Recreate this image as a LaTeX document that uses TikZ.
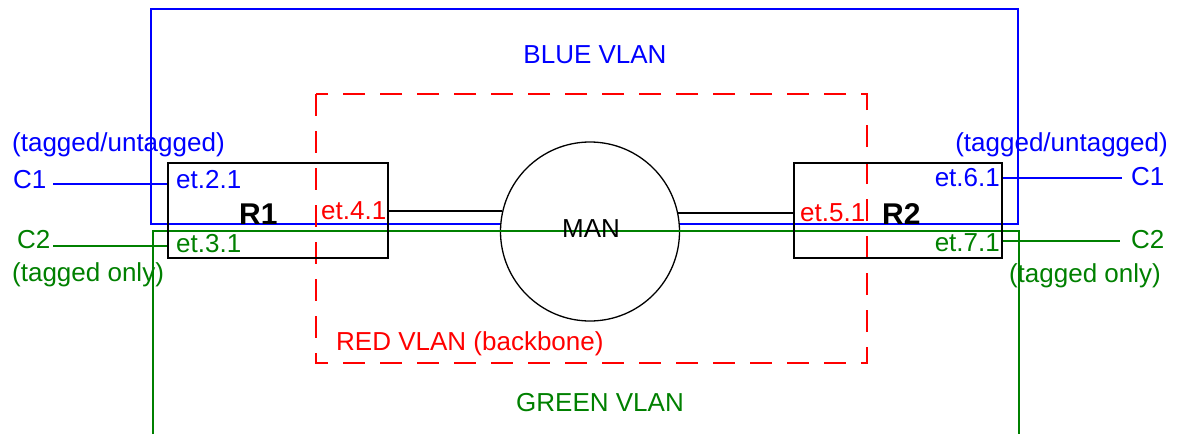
\documentclass[tikz,border=0pt]{standalone}
\usepackage{fontspec}
\setmainfont{Liberation Sans}
\definecolor{vblue}{RGB}{0,0,255}
\definecolor{vgreen}{RGB}{0,128,0}
\definecolor{vred}{RGB}{255,0,0}
\begin{document}
\begin{tikzpicture}[x=1pt,y=-1pt,
  txt/.style={inner sep=0pt, font=\fontsize{26}{30}\selectfont},
  bigtxt/.style={inner sep=0pt, font=\fontsize{30}{34}\selectfont\bfseries},
  rbox/.style={draw=black, line width=2.5pt, rectangle, inner sep=0pt, minimum height=95pt},
  mancircle/.style={draw=black, line width=1.3pt, circle, fill=white, inner sep=0pt, minimum size=179pt},
  vlanblue/.style={draw=vblue, line width=2pt},
  vlangreen/.style={draw=vgreen, line width=2pt},
  vlanred/.style={draw=vred, line width=2.5pt, dash pattern=on 22pt off 15pt},
  link/.style={draw=black, line width=2pt},
  bluelink/.style={draw=vblue, line width=2pt},
  greenlink/.style={draw=vgreen, line width=2pt}]
\useasboundingbox (0,0) rectangle (1181,434);

% BLUE VLAN region
\draw[vlanblue] (151,9) rectangle (1018,224);
% MAN cloud
\node[mancircle] (MAN) at (590,231.5) {};
% GREEN VLAN region (open at the bottom)
\draw[vlangreen] (153,434) -- (153,231) -- (1019,231) -- (1019,434);
% RED VLAN region
\draw[vlanred] (316,94) rectangle (867,363);

% routers
\node[rbox, minimum width=220pt] (R1) at (278,210.5) {};
\node[rbox, minimum width=208pt] (R2) at (898,210.5) {};

% backbone links
\draw[link] (R1.east |- MAN.167.4) -- (MAN.167.4);
\draw[link] (MAN.12.6) -- (R2.west |- MAN.12.6);

% client links
\coordinate (c1l) at (53,184);
\coordinate (c2l) at (53,246);
\coordinate (c1r) at (1122,178);
\coordinate (c2r) at (1120,241);
\draw[bluelink] (c1l) -- (c1l -| R1.west);
\draw[greenlink] (c2l) -- (c2l -| R1.west);
\draw[bluelink] (c1r -| R2.east) -- (c1r);
\draw[greenlink] (c2r -| R2.east) -- (c2r);

% texts
\node[txt, text=vblue, anchor=base] (tblue) at (595,63.3) {BLUE VLAN};
\node[txt, text=vred, anchor=base west] (tred) at (336,350.7) {RED VLAN (backbone)};
\node[txt, text=vgreen, anchor=base west] (tgreen) at (516,411.7) {GREEN VLAN};
\node[txt, anchor=base] (tman) at (591,237.3) {MAN};

\node[bigtxt, anchor=base west] (tr1) at (239,224.3) {R1};
\node[bigtxt, anchor=base west] (tr2) at (882,224.3) {R2};

\node[txt, text=vblue, anchor=base west] (tl1) at (12,151.7) {(tagged/untagged)};
\node[txt, text=vblue, anchor=base west] (tc1l) at (13,188.3) {C1};
\node[txt, text=vblue, anchor=base west] (te21) at (176,188.3) {et.2.1};
\node[txt, text=vred, anchor=base west] (te41) at (321,219.8) {et.4.1};
\node[txt, text=vgreen, anchor=base west] (tc2l) at (17,248.3) {C2};
\node[txt, text=vgreen, anchor=base west] (te31) at (176,252.5) {et.3.1};
\node[txt, text=vgreen, anchor=base west] (tl2) at (12,281.7) {(tagged only)};

\node[txt, text=vblue, anchor=base east] (tr1t) at (1168,151.7) {(tagged/untagged)};
\node[txt, text=vblue, anchor=base east] (te61) at (1000,186.7) {et.6.1};
\node[txt, text=vblue, anchor=base west] (tc1r) at (1131,185) {C1};
\node[txt, text=vred, anchor=base west] (te51) at (800,221) {et.5.1};
\node[txt, text=vgreen, anchor=base east] (te71) at (1000,251.7) {et.7.1};
\node[txt, text=vgreen, anchor=base west] (tc2r) at (1131,248.3) {C2};
\node[txt, text=vgreen, anchor=base east] (tr2t) at (1161,282.5) {(tagged only)};
\end{tikzpicture}
\end{document}
